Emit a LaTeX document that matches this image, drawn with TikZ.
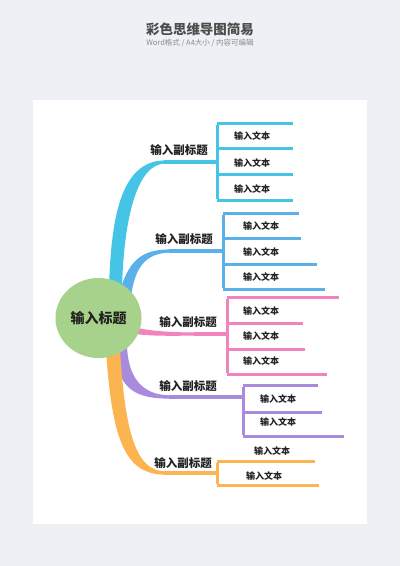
\documentclass[tikz,border=0pt]{standalone}
\usepackage{fontspec}
\newfontfamily\cjk{Noto Sans CJK SC}
\usetikzlibrary{shapes.geometric}
\definecolor{bgc}{HTML}{EDF0F5}
\definecolor{cone}{HTML}{45C4E6}
\definecolor{ctwo}{HTML}{5AB0E8}
\definecolor{cthree}{HTML}{F283BE}
\definecolor{cfour}{HTML}{A88BDC}
\definecolor{cfive}{HTML}{FBB44F}
\definecolor{cgreen}{HTML}{A7D28C}
\definecolor{ink}{HTML}{222222}
\tikzset{
  sublabel/.style={font=\cjk\bfseries\fontsize{11.5}{11.5}\selectfont, text=ink, inner sep=0pt},
  leaf/.style={font=\cjk\bfseries\fontsize{9}{9}\selectfont, text=ink, inner sep=0pt},
  brk/.style={line width=3pt, line cap=butt},
  stem/.style={line width=3.2pt},
}
\begin{document}
\begin{tikzpicture}[x=1pt,y=-1pt]
\useasboundingbox (0,0) rectangle (400,566);
\fill[bgc] (0,0) rectangle (400,566);
\fill[black!6] (33.5,100.5) rectangle (368,525);
\fill[white] (33,100) rectangle (367,524);
% heading
\node[font=\cjk\bfseries\fontsize{13.5}{13.5}\selectfont, text=black!70] (title) at (200,29) {彩色思维导图简易};
\node[font=\cjk\fontsize{7.5}{7.5}\selectfont, text=black!45] (subt) at (200,43) {Word格式 / A4大小 / 内容可编辑};

% tapered branches
\fill[cone] (109,288) .. controls (111,220) and (120,160.4) .. (165,160.4) -- (165,163.6) .. controls (138,163.6) and (124,215) .. (122,288) -- cycle;
\fill[ctwo] (119,294) .. controls (128,262) and (140,249.4) .. (170,249.4) -- (170,252.6) .. controls (145,253) and (135,268) .. (131,296) -- cycle;
\fill[cthree] (126,325.5) .. controls (145,330) and (160,332.4) .. (195,332.4) -- (195,335.6) .. controls (160,336) and (145,336) .. (126,332.5) -- cycle;
\fill[cfour] (113,346) .. controls (118,390) and (135,398.6) .. (170,398.6) -- (170,395.4) .. controls (140,395) and (128,375) .. (127,346) -- cycle;
\fill[cfive] (106,350) .. controls (112,440) and (125,474.6) .. (165,474.6) -- (165,471.4) .. controls (135,471) and (125,430) .. (120,350) -- cycle;

% root
\node[ellipse, fill=cgreen, minimum width=86pt, minimum height=80pt, inner sep=0pt,
      font=\cjk\bfseries\fontsize{14}{14}\selectfont, text=ink] (root) at (98.5,318) {输入标题};

% ---------- branch 1 ----------
\coordinate (s1) at (164,162);
\coordinate (b1) at (217,162);
\draw[cone,stem] (s1) -- (b1);
\coordinate (b1t) at (217,123); \coordinate (b1b) at (217,200);
\draw[cone,brk] ([yshift=-1.5pt]b1t) -- ([yshift=1.5pt]b1b);
\foreach \y/\e [count=\i] in {123/293,148/293,174/293,200/293}{
  \coordinate (p1\i) at (217,\y); \coordinate (q1\i) at (\e,\y);
  \draw[cone,brk] (p1\i) -- (q1\i);
}
\node[sublabel] (st1) at (179,150) {输入副标题};
\node[leaf] (t11) at (252,136) {输入文本};
\node[leaf] (t12) at (252,163) {输入文本};
\node[leaf] (t13) at (252,189) {输入文本};

% ---------- branch 2 ----------
\coordinate (s2) at (169,251);
\coordinate (b2) at (223,251);
\draw[ctwo,stem] (s2) -- (b2);
\coordinate (b2t) at (223,213); \coordinate (b2b) at (223,289);
\draw[ctwo,brk] ([yshift=-1.5pt]b2t) -- ([yshift=1.5pt]b2b);
\foreach \y/\e [count=\i] in {213/299,238/301,264/317,289/325}{
  \coordinate (p2\i) at (223,\y); \coordinate (q2\i) at (\e,\y);
  \draw[ctwo,brk] (p2\i) -- (q2\i);
}
\node[sublabel] (st2) at (184,239) {输入副标题};
\node[leaf] (t21) at (261,226) {输入文本};
\node[leaf] (t22) at (261,252) {输入文本};
\node[leaf] (t23) at (261,277) {输入文本};

% ---------- branch 3 ----------
\coordinate (s3) at (194,334);
\coordinate (b3) at (227,334);
\draw[cthree,stem] (s3) -- (b3);
\coordinate (b3t) at (227,297); \coordinate (b3b) at (227,374);
\draw[cthree,brk] ([yshift=-1.5pt]b3t) -- ([yshift=1.5pt]b3b);
\foreach \y/\e [count=\i] in {297/339,323/303,349/305,374/327}{
  \coordinate (p3\i) at (227,\y); \coordinate (q3\i) at (\e,\y);
  \draw[cthree,brk] (p3\i) -- (q3\i);
}
\node[sublabel] (st3) at (188,322) {输入副标题};
\node[leaf] (t31) at (261,311) {输入文本};
\node[leaf] (t32) at (261,336) {输入文本};
\node[leaf] (t33) at (261,361) {输入文本};

% ---------- branch 4 ----------
\coordinate (s4) at (169,397);
\coordinate (b4) at (243,397);
\draw[cfour,stem] (s4) -- (b4);
\coordinate (b4t) at (243,385); \coordinate (b4b) at (243,436);
\draw[cfour,brk] ([yshift=-1.5pt]b4t) -- ([yshift=1.5pt]b4b);
\foreach \y/\e [count=\i] in {385/318,412/322,436/344}{
  \coordinate (p4\i) at (243,\y); \coordinate (q4\i) at (\e,\y);
  \draw[cfour,brk] (p4\i) -- (q4\i);
}
\node[sublabel] (st4) at (188,386) {输入副标题};
\node[leaf] (t41) at (278,399) {输入文本};
\node[leaf] (t42) at (278,422) {输入文本};

% ---------- branch 5 ----------
\coordinate (s5) at (164,473);
\coordinate (b5) at (217,473);
\draw[cfive,stem] (s5) -- (b5);
\coordinate (b5t) at (217,461); \coordinate (b5b) at (217,485);
\draw[cfive,brk] ([yshift=-1.5pt]b5t) -- ([yshift=1.5pt]b5b);
\foreach \y/\e [count=\i] in {461/315,485/319}{
  \coordinate (p5\i) at (217,\y); \coordinate (q5\i) at (\e,\y);
  \draw[cfive,brk] (p5\i) -- (q5\i);
}
\node[sublabel] (st5) at (183,463) {输入副标题};
\node[leaf] (t51) at (272,451) {输入文本};
\node[leaf] (t52) at (264,476) {输入文本};
\end{tikzpicture}
\end{document}
